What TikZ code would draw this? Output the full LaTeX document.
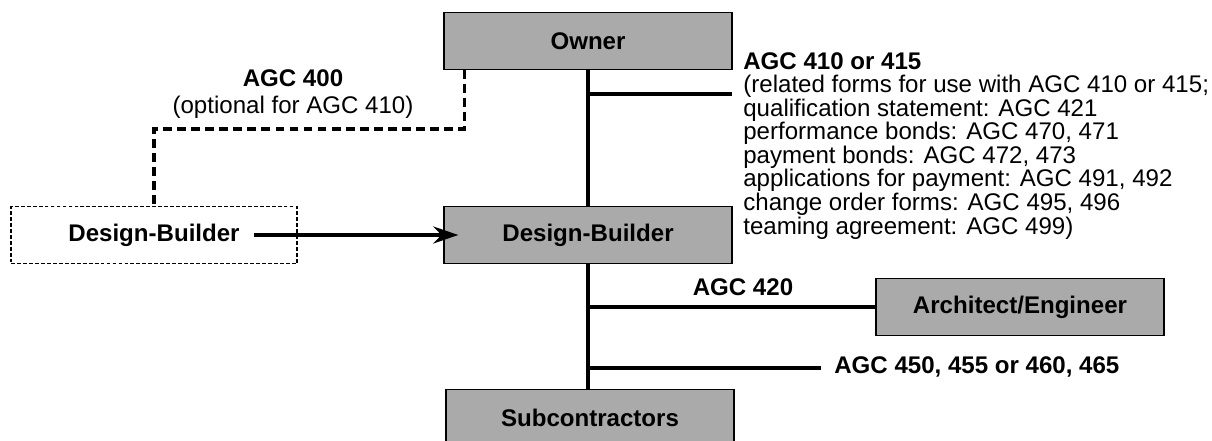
\documentclass[tikz,border=0pt]{standalone}
\usepackage{fontspec}
\setmainfont{Liberation Sans}
\usetikzlibrary{arrows.meta,calc}
\definecolor{boxgray}{RGB}{170,170,170}

\begin{document}
\begin{tikzpicture}[
    party/.style={draw, line width=0.8pt, fill=boxgray, minimum width=5.76cm, minimum height=1.13cm,
        font=\fontsize{13.7}{12}\selectfont\bfseries},
    altbox/.style={draw, line width=0.6pt, dash pattern=on 2.2pt off 1.2pt, minimum width=5.72cm,
        minimum height=1.14cm, font=\fontsize{13.7}{12}\selectfont\bfseries},
    link/.style={line width=1.9pt},
    optlink/.style={line width=1.9pt, dash pattern=on 5pt off 3pt},
    lbl/.style={inner sep=0pt, font={\fontsize{13.7}{13.4}\selectfont\lineskiplimit-10pt\relax}},
    lblb/.style={inner sep=0pt, font=\fontsize{13.7}{12}\selectfont\bfseries}
]
    \useasboundingbox (0,0) rectangle (24.24,8.8);

    % Parties
    \node[party] (owner) at (11.76,7.98) {Owner};
    \node[party] (db) at (11.76,4.1) {Design-Builder};
    \node[party] (sub) at (11.8,0.45) {Subcontractors};
    \node[party] (ae) at (20.4,2.66) {Architect/Engineer};
    \node[altbox] (dbalt) at (3.08,4.1) {Design-Builder};

    % Contract lines
    \draw[link] (owner.south) -- (db.north);
    \draw[link] (db.south) -- (db.south |- sub.north);
    \coordinate (ownerend) at (14.64,6.92);
    \draw[link] (owner.south |- ownerend) -- (ownerend);
    \draw[link] (db.south |- ae.west) -- (ae.west);
    \coordinate (subend) at (16.42,1.44);
    \draw[link] (db.south |- subend) -- (subend);

    % Optional link and hand-over
    \draw[optlink] ($(owner.south west)+(0.42,0)$) -- ++(0,-1.18) -| (dbalt.north);
    \draw[link, -{Stealth[length=0.5cm,width=0.34cm]}, shorten <=2cm, shorten >=-0.3cm]
        (dbalt.center) -- (db.west);

    % Labels
    \node[lblb] (agcfourhundred) at (5.86,7.24) {AGC 400};
    \node[lbl] (optional) at (5.86,6.66) {(optional for AGC 410)};
    \node[lblb, anchor=west] (agcmain) at (14.86,7.58) {AGC 410 or 415};
    \node[lbl, anchor=north west, align=left] (related) at (14.86,7.3) {(related forms for use with AGC 410 or 415;\\
        qualification statement: AGC 421\\
        performance bonds: AGC 470, 471\\
        payment bonds: AGC 472, 473\\
        applications for payment: AGC 491, 492\\
        change order forms: AGC 495, 496\\
        teaming agreement: AGC 499)};
    \node[lblb] (agcdesign) at (14.86,3.06) {AGC 420};
    \node[lblb, anchor=west] (agcsub) at (16.68,1.46) {AGC 450, 455 or 460, 465};
\end{tikzpicture}
\end{document}
